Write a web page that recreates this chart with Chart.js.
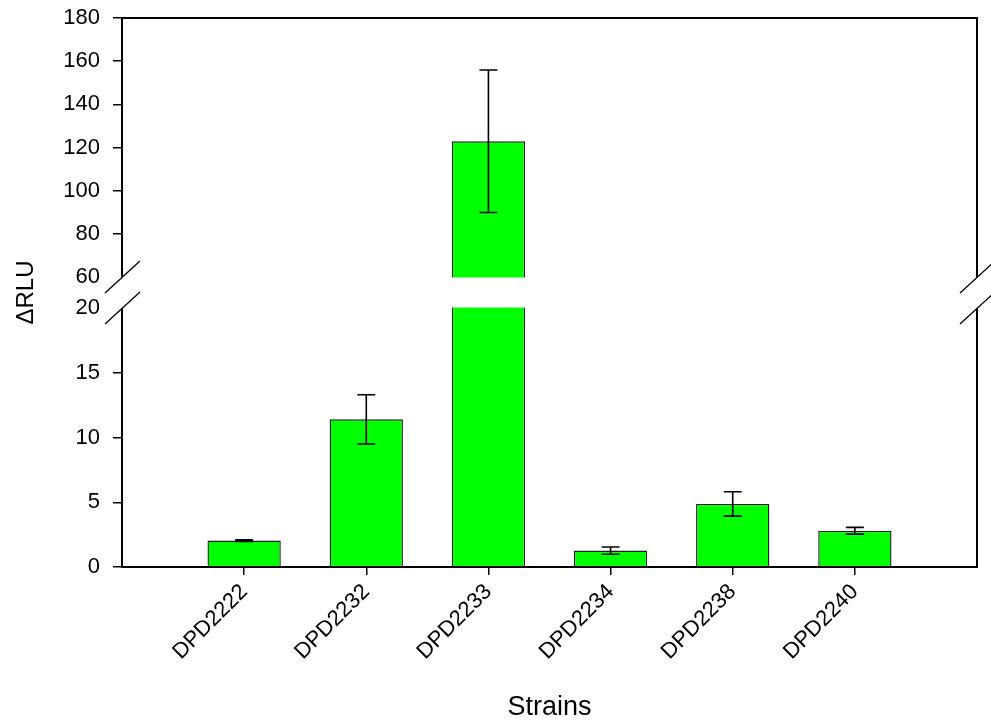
<!DOCTYPE html>
<html>
<head>
<meta charset="utf-8">
<title>ΔRLU by strain</title>
<script src="https://cdn.jsdelivr.net/npm/chart.js@4.4.1/dist/chart.umd.min.js"></script>
<style>
  html, body { margin: 0; padding: 0; background: #ffffff; }
  #wrap { width: 991px; height: 723px; }
</style>
</head>
<body>
<div id="wrap"><canvas id="c" width="991" height="723"></canvas></div>
<script>
// Strains and measured luminescence change
const strains = ['DPD2222', 'DPD2232', 'DPD2233', 'DPD2234', 'DPD2238', 'DPD2240'];
const deltaRLU = [2.04, 11.4, 122.9, 1.27, 4.87, 2.8];
const errorRLU = [0.06, 1.9, 33, 0.28, 0.94, 0.26];

// Y axis is broken between 20 and 60
const lowerTicks = [0, 5, 10, 15, 20];
const upperTicks = [60, 80, 100, 120, 140, 160, 180];
const breakLow = 20;
const breakHigh = 60;

// Linear scale with a gap: [min, breakLow] in the lower half, [breakHigh, max] in the upper half
class BrokenLinearScale extends Chart.LinearScale {
  _segments() {
    const gap = this.options.breakGap || 30;
    const seg = (this.bottom - this.top - gap) / 2;
    return { gap, seg };
  }
  getPixelForValue(v) {
    const { gap, seg } = this._segments();
    const lo = this.options.breakLow, hi = this.options.breakHigh;
    const min = this.min, max = this.max;
    if (v <= lo) return this.bottom - (v - min) / (lo - min) * seg;
    if (v >= hi) return this.top + (max - v) / (max - hi) * seg;
    return this.bottom - seg - (v - lo) / (hi - lo) * gap;
  }
  getValueForPixel(p) {
    const { gap, seg } = this._segments();
    const lo = this.options.breakLow, hi = this.options.breakHigh;
    const min = this.min, max = this.max;
    if (p >= this.bottom - seg) return min + (this.bottom - p) / seg * (lo - min);
    if (p <= this.top + seg) return max - (p - this.top) / seg * (max - hi);
    return lo + (this.bottom - seg - p) / gap * (hi - lo);
  }
}
BrokenLinearScale.id = 'brokenLinear';
BrokenLinearScale.defaults = Chart.LinearScale.defaults;
Chart.register(BrokenLinearScale);

const FONT = '"Liberation Sans", Arial, sans-serif';

// Error bars, blanked gap, frame and break marks
const decorations = {
  id: 'decorations',
  afterDatasetsDraw(chart) {
    const { ctx, chartArea: a } = chart;
    const x = chart.scales.x, y = chart.scales.y;
    const pHigh = y.getPixelForValue(breakHigh);
    const pLow = y.getPixelForValue(breakLow);

    ctx.save();
    // blank the gap
    ctx.fillStyle = '#ffffff';
    ctx.fillRect(a.left - 2, pHigh + 0.5, a.right - a.left + 4, pLow - pHigh - 1);

    // error bars
    ctx.strokeStyle = '#000000';
    ctx.lineWidth = 1.6;
    const cap = 9;
    deltaRLU.forEach((v, i) => {
      const cx = x.getPixelForValue(i + 1);
      const yt = y.getPixelForValue(v + errorRLU[i]);
      const yb = y.getPixelForValue(v - errorRLU[i]);
      ctx.beginPath();
      ctx.moveTo(cx, yt); ctx.lineTo(cx, yb);
      ctx.moveTo(cx - cap, yt); ctx.lineTo(cx + cap, yt);
      ctx.moveTo(cx - cap, yb); ctx.lineTo(cx + cap, yb);
      ctx.stroke();
    });

    // frame, interrupted at the break
    ctx.lineWidth = 2;
    ctx.beginPath();
    ctx.moveTo(a.left, a.bottom); ctx.lineTo(a.left, pLow);
    ctx.moveTo(a.left, pHigh); ctx.lineTo(a.left, a.top);
    ctx.lineTo(a.right, a.top); ctx.lineTo(a.right, pHigh);
    ctx.moveTo(a.right, pLow); ctx.lineTo(a.right, a.bottom);
    ctx.moveTo(a.left - 1, a.bottom); ctx.lineTo(a.right + 1, a.bottom);
    ctx.stroke();

    // break marks
    ctx.lineWidth = 1.3;
    ctx.beginPath();
    [a.left, a.right].forEach(ax => {
      [pHigh, pLow].forEach(py => {
        ctx.moveTo(ax - 17, py + 16);
        ctx.lineTo(ax + 18, py - 16);
      });
    });
    ctx.stroke();
    ctx.restore();
  }
};

new Chart(document.getElementById('c'), {
  type: 'bar',
  data: {
    datasets: [{
      data: strains.map((s, i) => ({ x: i + 1, y: deltaRLU[i] })),
      backgroundColor: '#00ff00',
      borderColor: '#1e1e1e',
      borderWidth: 1.4,
      barPercentage: 0.6,
      categoryPercentage: 1
    }]
  },
  options: {
    responsive: false,
    animation: false,
    layout: { padding: { top: 18, right: 14, left: 0, bottom: 0 } },
    plugins: { legend: { display: false }, tooltip: { enabled: false } },
    scales: {
      x: {
        type: 'linear',
        min: 0,
        max: 7,
        offset: false,
        afterBuildTicks: s => { s.ticks = strains.map((_, i) => ({ value: i + 1 })); },
        afterFit: s => { s.height = 156; },
        border: { display: false },
        grid: { offset: false, drawOnChartArea: false, drawTicks: true, tickLength: 8, color: '#000000', lineWidth: 1.5 },
        ticks: {
          autoSkip: false,
          minRotation: 45,
          maxRotation: 45,
          padding: 4,
          color: '#000000',
          font: { family: FONT, size: 22 },
          callback: v => strains[v - 1] || ''
        },
        title: {
          display: true,
          text: 'Strains',
          color: '#000000',
          font: { family: FONT, size: 27 },
          padding: { top: 0, bottom: -1 }
        }
      },
      y: {
        type: 'brokenLinear',
        min: 0,
        max: 180,
        breakLow: breakLow,
        breakHigh: breakHigh,
        breakGap: 31,
        afterBuildTicks: s => { s.ticks = lowerTicks.concat(upperTicks).map(v => ({ value: v })); },
        afterFit: s => { s.width = 122; s.paddingTop = 0; s.paddingBottom = 0; },
        border: { display: false },
        grid: {
          drawOnChartArea: false,
          drawTicks: true,
          tickLength: 9,
          lineWidth: 1.5,
          color: c => (c.tick && (c.tick.value === breakLow || c.tick.value === breakHigh)) ? 'rgba(0,0,0,0)' : '#000000'
        },
        ticks: {
          autoSkip: false,
          padding: 13,
          color: '#000000',
          font: { family: FONT, size: 22 },
          callback: v => String(v)
        },
        title: {
          display: true,
          text: 'ΔRLU',
          color: '#000000',
          font: { family: FONT, size: 24 },
          padding: { top: 12, bottom: 0 }
        }
      }
    }
  },
  plugins: [decorations]
});
</script>
</body>
</html>
